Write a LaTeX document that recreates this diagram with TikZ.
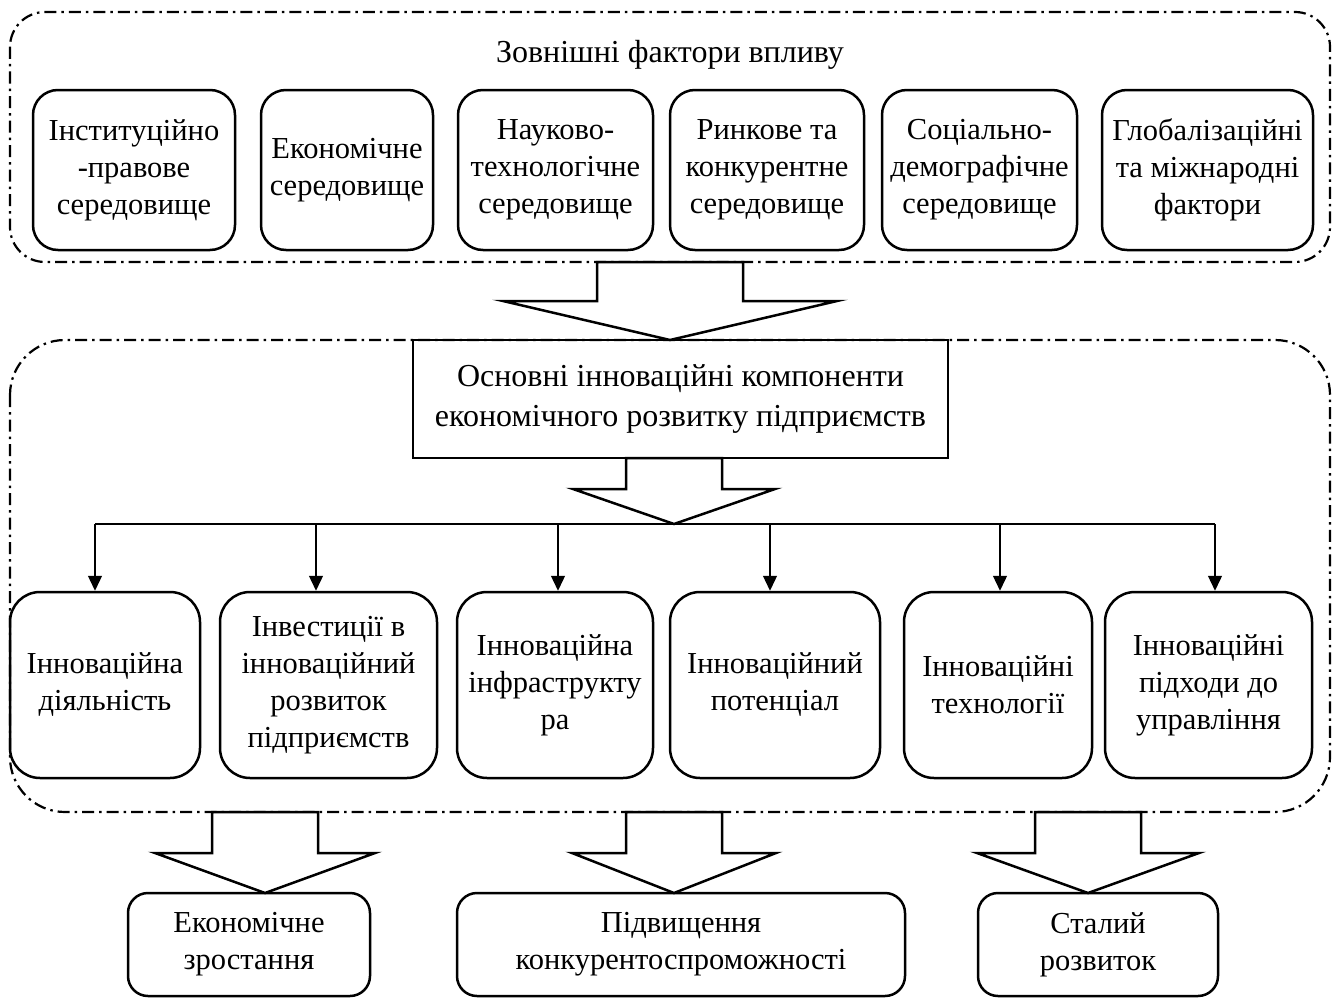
\documentclass[tikz,border=0pt]{standalone}
\usepackage{fontspec}
\setmainfont{Liberation Serif}
\usetikzlibrary{arrows.meta}
\begin{document}
\begin{tikzpicture}[x=1pt,y=-1pt,
  every node/.style={font=\fontsize{30.5}{37}\selectfont, align=center, inner sep=0pt},
  heading/.style={font=\fontsize{32}{40}\selectfont},
  group/.style={draw, line width=2.2pt, dash pattern=on 12pt off 5pt on 2.5pt off 5pt},
  factor/.style={draw, line width=2.5pt, rounded corners=25pt},
  comp/.style={draw, line width=2.5pt, rounded corners=30pt, minimum height=186pt},
  result/.style={draw, line width=2.5pt, rounded corners=20pt, minimum height=103pt},
  core/.style={draw, line width=2.5pt, minimum width=535pt, minimum height=118pt, heading},
  bigarrow/.style={draw, fill=white, line width=2.5pt, line join=miter},
  branch/.style={line width=1.3pt},
  feed/.style={line width=1.3pt, -{Triangle[length=15pt,width=14pt]}}]
\useasboundingbox (0,0) rectangle (1338,998);

% dash-dot groups
\draw[group, rounded corners=35pt] (10,12) rectangle (1330,262);
\draw[group, rounded corners=55pt] (10,340) rectangle (1330,812);

% external factors
\node[heading] (title) at (670,55) {Зовнішні фактори впливу};
\node[factor, minimum width=202pt, minimum height=160pt] (t1) at (134,170) {Інституційно\\-правове\\середовище};
\node[factor, minimum width=172pt, minimum height=160pt] (t2) at (347,170) {Економічне\\середовище};
\node[factor, minimum width=195pt, minimum height=160pt] (t3) at (555.5,170) {Науково-\\технологічне\\середовище};
\node[factor, minimum width=194pt, minimum height=160pt] (t4) at (767,170) {Ринкове та\\конкурентне\\середовище};
\node[factor, minimum width=195pt, minimum height=160pt] (t5) at (979.5,170) {Соціально-\\демографічне\\середовище};
\node[factor, minimum width=211pt, minimum height=160pt] (t6) at (1207.5,170) {Глобалізаційні\\та міжнародні\\фактори};

% core block
\node[core] (core) at (680.5,399) {Основні інноваційні компоненти\\економічного розвитку підприємств};

% components
\node[comp, minimum width=190pt] (b1) at (105,685) {Інноваційна\\діяльність};
\node[comp, minimum width=217pt] (b2) at (328.5,685) {Інвестиції в\\інноваційний\\розвиток\\підприємств};
\node[comp, minimum width=196pt] (b3) at (555,685) {Інноваційна\\інфраструкту\\ра};
\node[comp, minimum width=210pt] (b4) at (775,685) {Інноваційний\\потенціал};
\node[comp, minimum width=188pt] (b5) at (998,685) {Інноваційні\\технології};
\node[comp, minimum width=207pt] (b6) at (1208.5,685) {Інноваційні\\підходи до\\управління};

% results
\node[result, minimum width=242pt] (o1) at (249,944.5) {Економічне\\зростання};
\node[result, minimum width=448pt] (o2) at (681,944.5) {Підвищення\\конкурентоспроможності};
\node[result, minimum width=240pt] (o3) at (1098,944.5) {Сталий\\розвиток};

% distribution line and feeds
\coordinate (h1) at (95,524);
\coordinate (h2) at (316,524);
\coordinate (h3) at (558,524);
\coordinate (h4) at (770,524);
\coordinate (h5) at (1000,524);
\coordinate (h6) at (1215,524);
\draw[branch] (h1) -- (h6);
\draw[feed] (h1) -- (h1 |- b1.north);
\draw[feed] (h2) -- (h2 |- b2.north);
\draw[feed] (h3) -- (h3 |- b3.north);
\draw[feed] (h4) -- (h4 |- b4.north);
\draw[feed] (h5) -- (h5 |- b5.north);
\draw[feed] (h6) -- (h6 |- b6.north);

% block arrows
\draw[bigarrow] (597,262) -- (597,301) -- (503,301) -- (670,340) -- (837,301) -- (743,301) -- (743,262) -- cycle;
\draw[bigarrow] (626,458) -- (626,489) -- (573,489) -- (674,524) -- (775,489) -- (722,489) -- (722,458) -- cycle;
\draw[bigarrow] (212,812) -- (212,853) -- (155,853) -- (265,893) -- (375,853) -- (318,853) -- (318,812) -- cycle;
\draw[bigarrow] (626,812) -- (626,853) -- (572,853) -- (674,893) -- (776,853) -- (722,853) -- (722,812) -- cycle;
\draw[bigarrow] (1035,812) -- (1035,853) -- (977,853) -- (1088,893) -- (1199,853) -- (1141,853) -- (1141,812) -- cycle;
\end{tikzpicture}
\end{document}
